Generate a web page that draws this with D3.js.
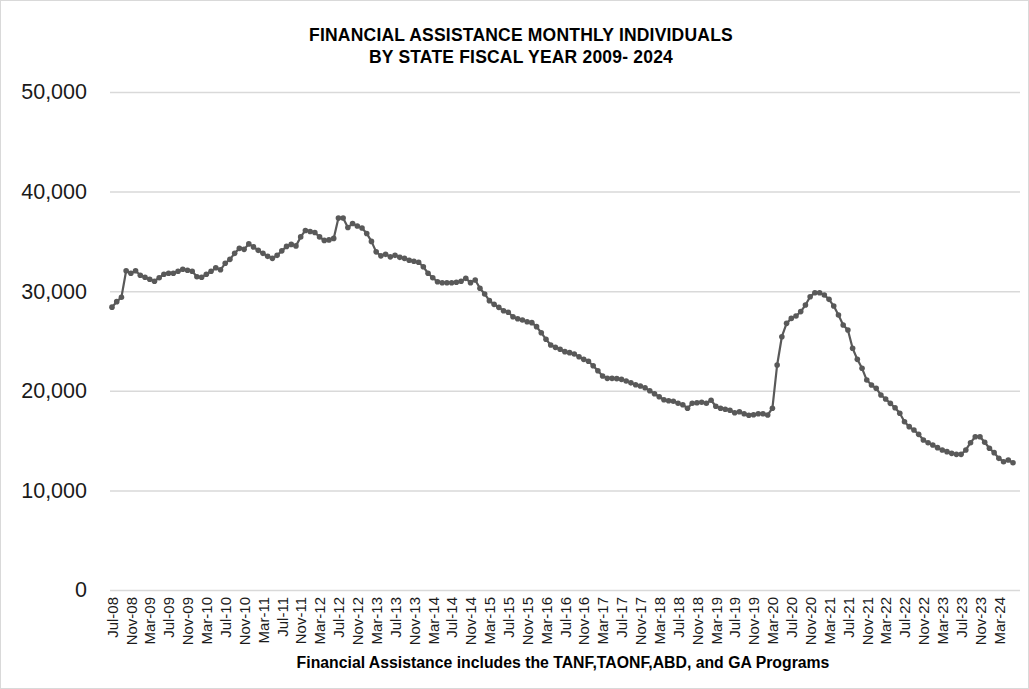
<!DOCTYPE html>
<html>
<head>
<meta charset="utf-8">
<script src="https://cdn.jsdelivr.net/npm/d3@7"></script>
<style>
  html, body { margin: 0; padding: 0; background: #fff; }
  svg { display: block; font-family: "Liberation Sans", Arial, sans-serif; }
</style>
</head>
<body>
<svg id="chart" width="1029" height="689"></svg>
<script>
// Monthly individuals receiving financial assistance, grouped by state fiscal year (Jul-Jun)
const sfy2009 = [28400, 28950, 29400, 32050, 31800, 32050, 31600, 31400, 31200, 31000, 31350, 31700];
const sfy2010 = [31800, 31800, 32000, 32200, 32100, 32000, 31450, 31400, 31700, 32000, 32350, 32150];
const sfy2011 = [32800, 33200, 33800, 34300, 34200, 34750, 34450, 34100, 33800, 33500, 33300, 33600];
const sfy2012 = [34050, 34500, 34700, 34550, 35450, 36100, 36000, 35900, 35450, 35100, 35150, 35300];
const sfy2013 = [37350, 37350, 36400, 36800, 36550, 36350, 35800, 35000, 33950, 33550, 33700, 33450];
const sfy2014 = [33600, 33400, 33300, 33100, 33000, 32900, 32450, 31800, 31350, 30950, 30850, 30850];
const sfy2015 = [30850, 30900, 31000, 31290, 30860, 31120, 30290, 29720, 29050, 28680, 28380, 28040];
const sfy2016 = [27880, 27440, 27240, 27110, 26940, 26840, 26440, 25830, 25170, 24600, 24360, 24170];
const sfy2017 = [23930, 23830, 23690, 23420, 23160, 22960, 22520, 22020, 21490, 21250, 21250, 21220];
const sfy2018 = [21150, 20980, 20800, 20600, 20480, 20300, 20000, 19700, 19400, 19100, 19000, 18950];
const sfy2019 = [18750, 18600, 18250, 18750, 18800, 18850, 18750, 19050, 18450, 18250, 18150, 18050];
const sfy2020 = [17800, 17900, 17700, 17550, 17600, 17700, 17700, 17570, 18250, 22590, 25430, 26770];
const sfy2021 = [27270, 27510, 27950, 28610, 29450, 29850, 29850, 29620, 29180, 28510, 27610, 26610];
const sfy2022 = [26100, 24270, 23160, 22260, 21080, 20580, 20250, 19580, 19180, 18740, 18300, 17740];
const sfy2023 = [16900, 16400, 16060, 15630, 15060, 14790, 14560, 14290, 14060, 13890, 13720, 13620];
const sfy2024 = [13620, 14060, 14790, 15390, 15390, 14830, 14230, 13790, 13220, 12880, 13050, 12780];

// Axis labels
const yTicks = [0, 10000, 20000, 30000, 40000, 50000];
const xTickLabels = [
  "Jul-08","Nov-08","Mar-09","Jul-09","Nov-09","Mar-10","Jul-10","Nov-10",
  "Mar-11","Jul-11","Nov-11","Mar-12","Jul-12","Nov-12","Mar-13","Jul-13",
  "Nov-13","Mar-14","Jul-14","Nov-14","Mar-15","Jul-15","Nov-15","Mar-16",
  "Jul-16","Nov-16","Mar-17","Jul-17","Nov-17","Mar-18","Jul-18","Nov-18",
  "Mar-19","Jul-19","Nov-19","Mar-20","Jul-20","Nov-20","Mar-21","Jul-21",
  "Nov-21","Mar-22","Jul-22","Nov-22","Mar-23","Jul-23","Nov-23","Mar-24"
];
const titleLines = ["FINANCIAL ASSISTANCE MONTHLY INDIVIDUALS", "BY STATE FISCAL YEAR 2009- 2024"];
const footnote = "Financial Assistance includes the TANF,TAONF,ABD, and GA Programs";

const values = [].concat(sfy2009, sfy2010, sfy2011, sfy2012, sfy2013, sfy2014, sfy2015, sfy2016,
  sfy2017, sfy2018, sfy2019, sfy2020, sfy2021, sfy2022, sfy2023, sfy2024);
const fmtMonth = d3.timeFormat("%b-%y");
const months = d3.timeMonth.range(new Date(2008, 6, 1), new Date(2008, 6 + values.length, 1)).map(fmtMonth);
const data = months.map((m, i) => ({ month: m, value: values[i] }));

const svg = d3.select("#chart");
const W = 1029, H = 689;
const plot = { left: 110, right: 1020, top: 92, bottom: 590 };

svg.append("rect").attr("x", 0.5).attr("y", 0.5).attr("width", W - 1).attr("height", H - 1)
  .attr("fill", "#fff").attr("stroke", "#d9d9d9");

const x = d3.scalePoint().domain(months).range([112, 1013]);
const y = d3.scaleLinear().domain([0, 50000]).range([plot.bottom, plot.top]);

// Horizontal gridlines
svg.append("g")
  .attr("transform", `translate(${plot.left},0)`)
  .call(d3.axisLeft(y).tickValues(yTicks).tickSize(-(plot.right - plot.left)).tickFormat(""))
  .call(g => g.select(".domain").remove())
  .call(g => g.selectAll("line").attr("stroke", "#d9d9d9").attr("stroke-width", 1.5));

// Y axis labels
svg.append("g")
  .attr("transform", `translate(87,0)`)
  .call(d3.axisLeft(y).tickValues(yTicks).tickSize(0).tickPadding(0).tickFormat(d3.format(",")))
  .call(g => g.select(".domain").remove())
  .call(g => g.selectAll("text").attr("font-size", 21.5).attr("fill", "#1a1a1a")
    .attr("font-family", "'Liberation Sans', Arial, sans-serif"));

// X axis labels, every fourth month
svg.append("g")
  .attr("transform", `translate(0,${plot.bottom})`)
  .call(d3.axisBottom(x).tickValues(xTickLabels).tickSize(0))
  .call(g => g.select(".domain").remove())
  .call(g => g.selectAll("text")
    .attr("font-size", 15).attr("fill", "#1a1a1a")
    .attr("font-family", "'Liberation Sans', Arial, sans-serif")
    .attr("text-anchor", "end")
    .attr("transform", "rotate(-90)")
    .attr("x", -7).attr("y", 0).attr("dy", "0.35em"));

// Series line and markers
const line = d3.line().x(d => x(d.month)).y(d => y(d.value));
svg.append("path").datum(data)
  .attr("fill", "none").attr("stroke", "#595959").attr("stroke-width", 2.2)
  .attr("stroke-linejoin", "round").attr("d", line);
svg.append("g").selectAll("circle").data(data).join("circle")
  .attr("cx", d => x(d.month)).attr("cy", d => y(d.value)).attr("r", 2.8)
  .attr("fill", "#595959");

// Title
svg.append("text").attr("x", 521).attr("y", 41).attr("text-anchor", "middle")
  .attr("font-size", 17.5).attr("font-weight", "bold").attr("fill", "#000")
  .attr("letter-spacing", 0.2)
  .selectAll("tspan").data(titleLines).join("tspan")
  .attr("x", 521).attr("dy", (d, i) => i === 0 ? 0 : 22).text(d => d);

// Footnote
svg.append("text").attr("x", 563).attr("y", 668).attr("text-anchor", "middle")
  .attr("font-size", 15.8).attr("font-weight", "bold").attr("fill", "#000").text(footnote);
</script>
</body>
</html>
